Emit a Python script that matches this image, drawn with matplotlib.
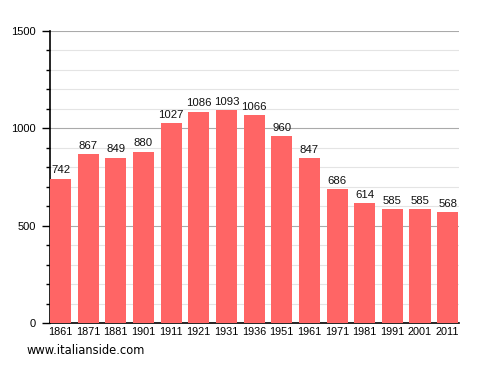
import numpy as np
import matplotlib.pyplot as plt
from matplotlib.ticker import MultipleLocator

years = ["1861", "1871", "1881", "1901", "1911", "1921", "1931", "1936",
         "1951", "1961", "1971", "1981", "1991", "2001", "2011"]
population = [742, 867, 849, 880, 1027, 1086, 1093, 1066,
              960, 847, 686, 614, 585, 585, 568]

plt.rcParams["font.family"] = ["Liberation Sans", "DejaVu Sans"]

fig = plt.figure(figsize=(4.88, 3.73), dpi=100)
ax = fig.add_axes([50 / 488, 50 / 373, 409 / 488, 292 / 373])

x = np.arange(len(years))
ax.bar(x, population, width=0.76, color="#ff6565", zorder=3)

for xi, v in zip(x, population):
    ax.annotate(str(v), (xi, v), xytext=(0, 2.5), textcoords="offset points",
                ha="center", va="bottom", fontsize=8.2, color="#111111", zorder=4)

ax.set_xlim(-0.38, 14.41)
ax.set_ylim(0, 1500)
ax.set_xticks(x)
ax.set_xticklabels(years, fontsize=7.8)
ax.yaxis.set_major_locator(MultipleLocator(500))
ax.yaxis.set_minor_locator(MultipleLocator(100))
ax.tick_params(axis="y", which="major", length=6, width=1, pad=4, labelsize=8)
ax.tick_params(axis="y", which="minor", length=3, width=1)
ax.tick_params(axis="x", length=0, pad=3)

ax.grid(axis="y", which="major", color="#aaaaaa", linewidth=0.8, zorder=0)
ax.grid(axis="y", which="minor", color="#e4e4e4", linewidth=0.8, zorder=0)

for s in ["top", "right"]:
    ax.spines[s].set_visible(False)
ax.spines["left"].set_linewidth(1.2)
ax.spines["bottom"].set_linewidth(1.2)

fig.text(27 / 488, 1 - 351 / 373, "www.italianside.com", fontsize=8.3,
         family="DejaVu Sans", va="center", ha="left")

fig.savefig("out.png", dpi=100)
